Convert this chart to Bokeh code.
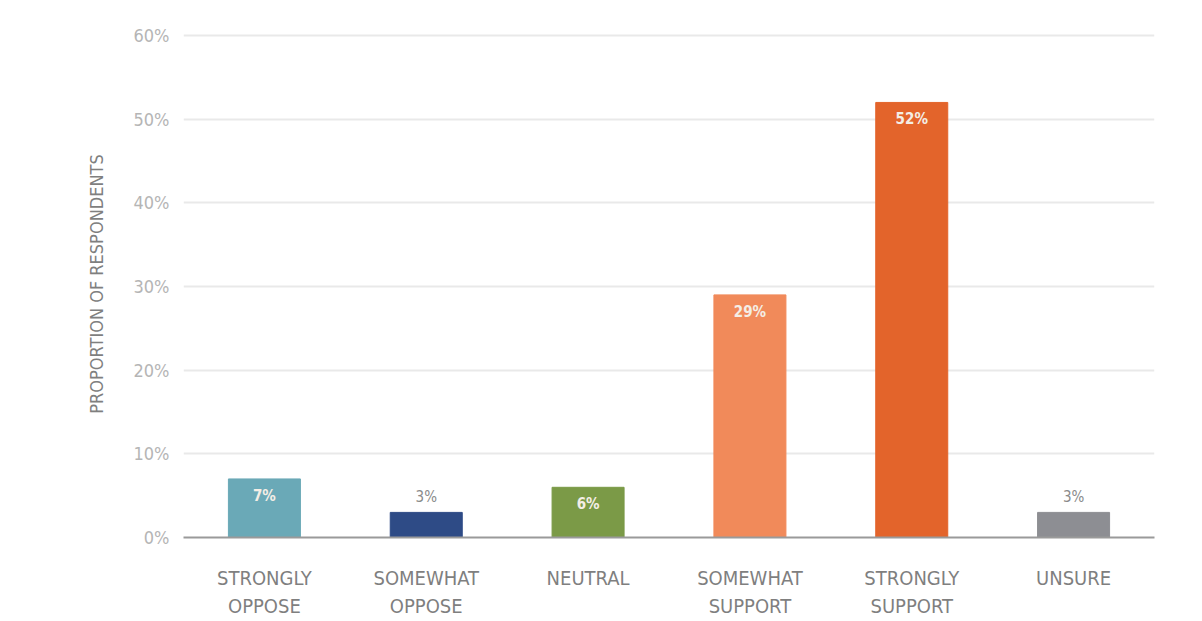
from bokeh.plotting import figure
from bokeh.models import ColumnDataSource, FactorRange, Range1d, NumeralTickFormatter, FixedTicker
from bokeh.core.properties import value
from bokeh.embed import file_html
from bokeh.resources import INLINE

categories = ["STRONGLY\nOPPOSE", "SOMEWHAT\nOPPOSE", "NEUTRAL", "SOMEWHAT\nSUPPORT", "STRONGLY\nSUPPORT", "UNSURE"]
values = [7, 3, 6, 29, 52, 3]
colors = ["#6aa9b7", "#2e4b86", "#7b9a47", "#f18a5a", "#e3642b", "#8d8e93"]
y_ticks = [0, 10, 20, 30, 40, 50, 60]

FONT = "'Liberation Sans Narrow', 'DejaVu Sans Condensed', 'Roboto Condensed', sans-serif"

labels = [f"{v}%" for v in values]
inside = [v >= 5 for v in values]

src = ColumnDataSource(dict(cat=categories, val=values, color=colors, label=labels))
src_in = ColumnDataSource(dict(cat=[c for c, i in zip(categories, inside) if i],
                               val=[v for v, i in zip(values, inside) if i],
                               label=[l for l, i in zip(labels, inside) if i]))
src_out = ColumnDataSource(dict(cat=[c for c, i in zip(categories, inside) if not i],
                                val=[v for v, i in zip(values, inside) if not i],
                                label=[l for l, i in zip(labels, inside) if not i]))

p = figure(x_range=FactorRange(*categories, range_padding=0.0),
           y_range=Range1d(0, 60.6),
           width=1200, height=621,
           output_backend="svg", toolbar_location=None,
           min_border_left=183, min_border_right=46, min_border_top=30, min_border_bottom=84)

p.vbar(x="cat", top="val", width=0.445, color="color", source=src)

p.text(x="cat", y="val", text="label", source=src_in, y_offset=8,
       text_align="center", text_baseline="top", text_color="#f4eee6",
       text_font=value(FONT), text_font_size="15px", text_font_style="bold")
p.text(x="cat", y="val", text="label", source=src_out, y_offset=-6,
       text_align="center", text_baseline="bottom", text_color="#8a8a8a",
       text_font=value(FONT), text_font_size="15px")

p.outline_line_color = None
p.background_fill_color = "white"
p.border_fill_color = "white"

p.xgrid.grid_line_color = None
p.ygrid.grid_line_color = "#e9e9e9"
p.ygrid.grid_line_width = 2

p.yaxis.ticker = FixedTicker(ticks=y_ticks)
p.yaxis.formatter = NumeralTickFormatter(format="0")
p.yaxis.major_label_overrides = {t: f"{t}%" for t in y_ticks}
p.yaxis.axis_line_color = None
p.yaxis.major_tick_line_color = None
p.yaxis.minor_tick_line_color = None
p.yaxis.major_label_text_color = "#b5b5b5"
p.yaxis.major_label_text_font = FONT
p.yaxis.major_label_text_font_size = "18px"
p.yaxis.major_label_standoff = 8
p.yaxis.axis_label = "PROPORTION OF RESPONDENTS"
p.yaxis.axis_label_text_font = FONT
p.yaxis.axis_label_text_font_size = "18px"
p.yaxis.axis_label_text_font_style = "normal"
p.yaxis.axis_label_text_color = "#7f7f7f"
p.yaxis.axis_label_standoff = 24

p.xaxis.axis_line_color = "#9a9a9a"
p.xaxis.axis_line_width = 2
p.xaxis.major_tick_line_color = None
p.xaxis.minor_tick_line_color = None
p.xaxis.major_label_text_color = "#7f7f7f"
p.xaxis.major_label_text_font = FONT
p.xaxis.major_label_text_font_size = "20px"
p.xaxis.major_label_standoff = 22

open("out.html", "w").write(file_html(p, INLINE))
